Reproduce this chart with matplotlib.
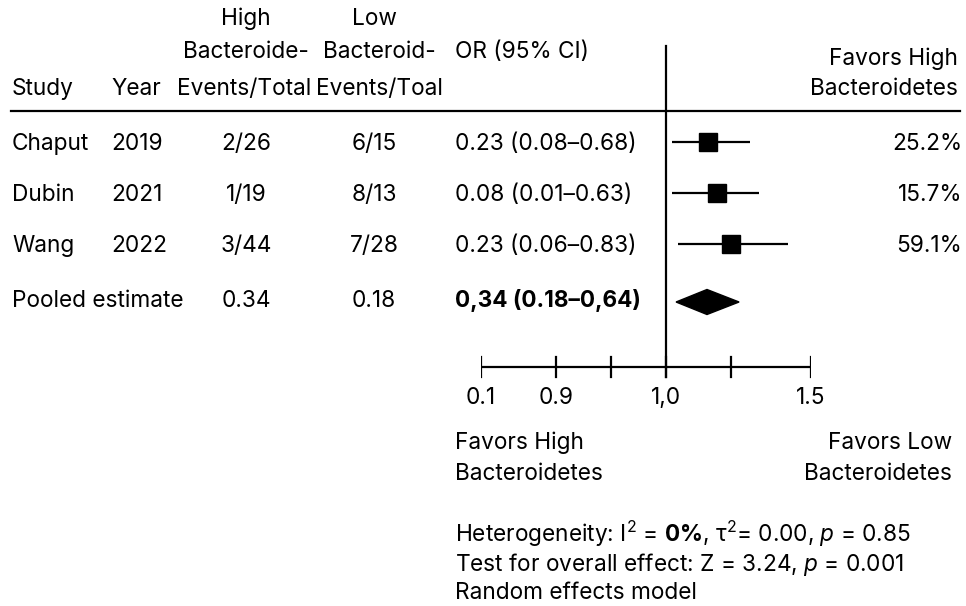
import matplotlib
matplotlib.use("Agg")
import matplotlib.pyplot as plt
from matplotlib.patches import Polygon
import numpy as np

plt.rcParams['font.family'] = ['Inter', 'DejaVu Sans']
plt.rcParams['mathtext.fontset'] = 'custom'
plt.rcParams['mathtext.rm'] = 'Inter'
plt.rcParams['mathtext.it'] = 'Inter:italic'
plt.rcParams['mathtext.bf'] = 'Inter:bold'

# table data
studies = ['Chaput', 'Dubin', 'Wang']
years = ['2019', '2021', '2022']
high_events = ['2/26', '1/19', '3/44']
low_events = ['6/15', '8/13', '7/28']
or_text = ['0.23 (0.08–0.68)', '0.08 (0.01–0.63)', '0.23 (0.06–0.83)']
weights = ['25.2%', '15.7%', '59.1%']
pooled_high = '0.34'
pooled_low = '0.18'
pooled_or_text = '0,34 (0.18–0,64)'

# values as drawn on the plot's own axis
est = [1.127, 1.156, 1.199]
ci_lo = [1.018, 1.018, 1.036]
ci_hi = [1.27, 1.304, 1.414]
pooled_est = 1.125
pooled_lo = 1.03
pooled_hi = 1.229

tick_vals = [0.1, 0.9, 0.95, 1.0, 1.2, 1.5]
tick_labels = ['0.1', '0.9', '', '1,0', '', '1.5']
tick_px = [0, 75, 129.8, 185.6, 250.7, 330]  # uneven spacing of the axis

W, H = 966, 606
fig = plt.figure(figsize=(W / 100, H / 100), dpi=100)
ax = fig.add_axes([0, 0, 1, 1])
ax.set_xlim(0, W)
ax.set_ylim(H, 0)
ax.axis('off')

fs = 16.3
row_y = [144, 195, 246]
pool_y = 301

# header
ax.text(12, 89, 'Study', fontsize=fs, va='center')
ax.text(111, 89, 'Year', fontsize=fs, va='center')
ax.text(246, 19, 'High', fontsize=fs, va='center', ha='center')
ax.text(246, 52, 'Bacteroide-', fontsize=fs, va='center', ha='center')
ax.text(244, 89, 'Events/Total', fontsize=fs, va='center', ha='center')
ax.text(374, 19, 'Low', fontsize=fs, va='center', ha='center')
ax.text(379, 52, 'Bacteroid-', fontsize=fs, va='center', ha='center')
ax.text(379, 89, 'Events/Toal', fontsize=fs, va='center', ha='center')
ax.text(455, 52, 'OR (95% CI)', fontsize=fs, va='center')
ax.text(958, 59, 'Favors High', fontsize=fs, va='center', ha='right')
ax.text(958, 89, 'Bacteroidetes', fontsize=fs, va='center', ha='right')
ax.plot([11, 960], [110.5, 110.5], color='black', lw=1.6)

for i, y in enumerate(row_y):
    ax.text(12, y, studies[i], fontsize=fs, va='center')
    ax.text(111, y, years[i], fontsize=fs, va='center')
    ax.text(246, y, high_events[i], fontsize=fs, va='center', ha='center')
    ax.text(374, y, low_events[i], fontsize=fs, va='center', ha='center')
    ax.text(455, y, or_text[i], fontsize=fs, va='center')
    ax.text(962, y, weights[i], fontsize=fs, va='center', ha='right')

ax.text(12, pool_y, 'Pooled estimate', fontsize=fs, va='center')
ax.text(246, pool_y, pooled_high, fontsize=fs, va='center', ha='center')
ax.text(374, pool_y, pooled_low, fontsize=fs, va='center', ha='center')
ax.text(455, pool_y, pooled_or_text, fontsize=fs, va='center', fontweight='bold')

ax.text(455, 443, 'Favors High', fontsize=fs, va='center')
ax.text(455, 474, 'Bacteroidetes', fontsize=fs, va='center')
ax.text(952, 443, 'Favors Low', fontsize=fs, va='center', ha='right')
ax.text(952, 474, 'Bacteroidetes', fontsize=fs, va='center', ha='right')

ax.text(455, 534, r'Heterogeneity: I$^2$ = $\mathbf{0\%}$, τ$^2$= 0.00, $p$ = 0.85',
        fontsize=fs, va='center')
ax.text(455, 564, r'Test for overall effect: Z = 3.24, $p$ = 0.001', fontsize=fs, va='center')
ax.text(455, 593, 'Random effects model', fontsize=fs, va='center')

# forest panel with its uneven scale
x0 = 480.7
fax = fig.add_axes([x0 / W, 0, 330 / W, 1])
fwd = lambda v: np.interp(v, tick_vals, tick_px)
inv = lambda p: np.interp(p, tick_px, tick_vals)
fax.set_xscale('function', functions=(fwd, inv))
fax.set_xlim(0.1, 1.5)
fax.set_ylim(H, 0)
fax.axis('off')

axis_y = 366.7
fax.plot([1.0, 1.0], [46, 377], color='black', lw=1.6)
fax.plot([tick_vals[0], tick_vals[-1]], [axis_y, axis_y], color='black', lw=1.6)
for v, lab in zip(tick_vals, tick_labels):
    fax.plot([v, v], [axis_y - 10, axis_y + 10], color='black', lw=1.6)
    if lab:
        fax.text(v, 398, lab, fontsize=fs, ha='center', va='center')

for i, y in enumerate(row_y):
    fax.plot([ci_lo[i], ci_hi[i]], [y - 2, y - 2], color='black', lw=1.6, solid_capstyle='butt')
    fax.plot(est[i], y - 2, marker='s', color='black', markersize=13.5)

diamond = Polygon([(pooled_lo, pool_y + 1), (pooled_est, pool_y - 11.5),
                   (pooled_hi, pool_y + 1), (pooled_est, pool_y + 13.5)],
                  closed=True, color='black')
fax.add_patch(diamond)

fig.savefig('out.png', dpi=100, facecolor='white')
